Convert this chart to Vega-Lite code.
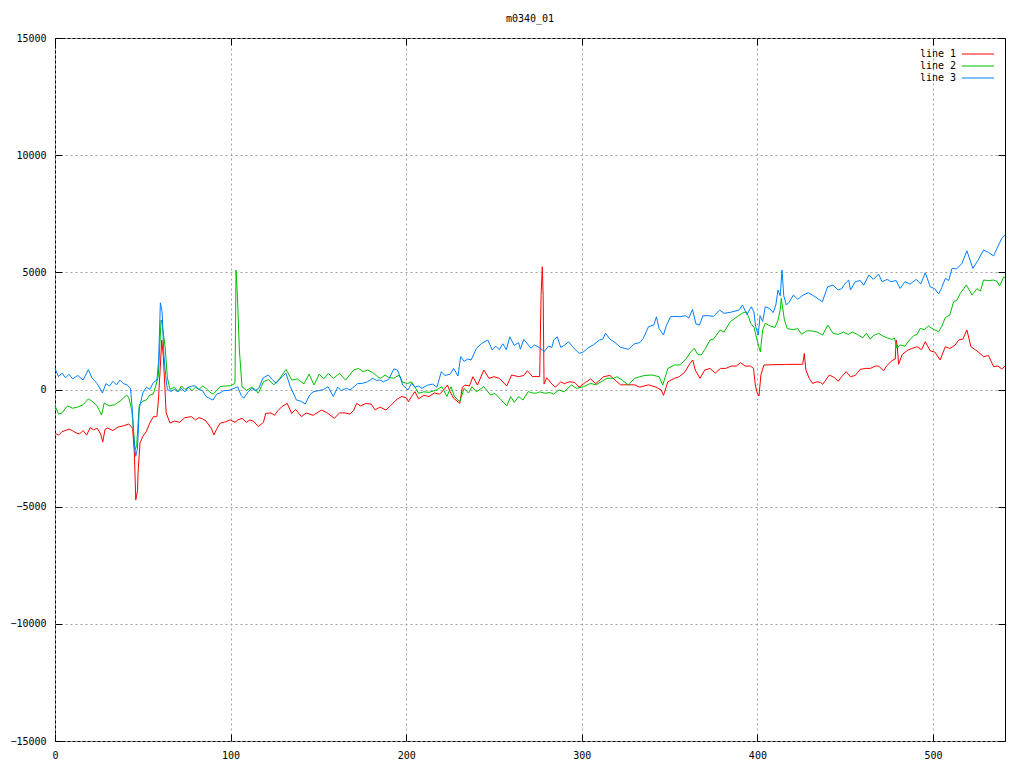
{
"$schema":"https://vega.github.io/schema/vega-lite/v6.json",
"width":950,"height":703,
"autosize":{"type":"none"},
"padding":{"left":55,"top":38,"right":19,"bottom":27},
"background":"white",
"title":{"text":"m0340_01","font":"DejaVu Sans Mono","fontSize":10,"fontWeight":"normal","color":"black","anchor":"middle","offset":9},
"config":{"view":{"stroke":"black","strokeWidth":1},"font":"DejaVu Sans Mono"},
"datasets":{
"l1":[{"x":0,"y":-1860},{"x":2,"y":-1950},{"x":4,"y":-1800},{"x":6,"y":-1750},{"x":8,"y":-1690},{"x":10,"y":-1760},{"x":12,"y":-1850},{"x":14,"y":-1900},{"x":16,"y":-1750},{"x":18,"y":-1950},{"x":20,"y":-1630},{"x":22,"y":-1720},{"x":24,"y":-1650},{"x":26,"y":-1900},{"x":27.2,"y":-2240},{"x":28.5,"y":-1700},{"x":30,"y":-1650},{"x":33,"y":-1750},{"x":36,"y":-1600},{"x":39,"y":-1550},{"x":42,"y":-1470},{"x":44.2,"y":-1650},{"x":45.2,"y":-2710},{"x":46,"y":-4715},{"x":47,"y":-4300},{"x":47.3,"y":-3560},{"x":48.4,"y":-2280},{"x":50,"y":-2000},{"x":52,"y":-1800},{"x":54,"y":-1430},{"x":56,"y":-1160},{"x":58,"y":-1160},{"x":58.9,"y":-450},{"x":60.8,"y":2110},{"x":61.7,"y":1400},{"x":63.3,"y":-1000},{"x":65.5,"y":-1430},{"x":68,"y":-1350},{"x":71,"y":-1400},{"x":74,"y":-1200},{"x":77.8,"y":-1160},{"x":80,"y":-1300},{"x":82,"y":-1200},{"x":84,"y":-1250},{"x":86,"y":-1350},{"x":89,"y":-1650},{"x":90.5,"y":-1940},{"x":92,"y":-1700},{"x":94,"y":-1440},{"x":97,"y":-1380},{"x":99.8,"y":-1300},{"x":102.5,"y":-1400},{"x":104,"y":-1300},{"x":106.5,"y":-1230},{"x":109,"y":-1400},{"x":111,"y":-1300},{"x":113,"y":-1350},{"x":115.8,"y":-1580},{"x":118.7,"y":-1400},{"x":120,"y":-1020},{"x":123,"y":-1000},{"x":125,"y":-1100},{"x":127,"y":-900},{"x":129.2,"y":-730},{"x":132.2,"y":-590},{"x":134.8,"y":-1020},{"x":137,"y":-850},{"x":140.4,"y":-1160},{"x":143,"y":-1000},{"x":147,"y":-1100},{"x":151.9,"y":-875},{"x":155,"y":-1000},{"x":159.1,"y":-1230},{"x":162,"y":-1000},{"x":165,"y":-1000},{"x":168,"y":-1050},{"x":170,"y":-900},{"x":171.8,"y":-590},{"x":174,"y":-700},{"x":177,"y":-600},{"x":180,"y":-620},{"x":182.3,"y":-875},{"x":185,"y":-750},{"x":188.5,"y":-875},{"x":191,"y":-700},{"x":195,"y":-400},{"x":197.5,"y":-300},{"x":200,"y":-350},{"x":201.3,"y":-520},{"x":203,"y":-300},{"x":205,"y":-90},{"x":207,"y":-400},{"x":210,"y":-250},{"x":213,"y":-300},{"x":216,"y":-150},{"x":219,"y":-200},{"x":221,"y":-50},{"x":223.5,"y":190},{"x":225,"y":-100},{"x":227,"y":-375},{"x":230.5,"y":-590},{"x":232,"y":100},{"x":233.5,"y":190},{"x":236,"y":150},{"x":238,"y":546},{"x":240.6,"y":190},{"x":244.2,"y":830},{"x":247.1,"y":478},{"x":250,"y":546},{"x":253,"y":478},{"x":257.3,"y":150},{"x":260,"y":620},{"x":264,"y":546},{"x":267,"y":600},{"x":269,"y":800},{"x":272,"y":546},{"x":274,"y":560},{"x":276,"y":546},{"x":276.8,"y":4000},{"x":277.5,"y":5240},{"x":278,"y":4000},{"x":278.5,"y":230},{"x":280,"y":500},{"x":283,"y":230},{"x":285,"y":100},{"x":288,"y":330},{"x":290,"y":250},{"x":293,"y":330},{"x":296,"y":300},{"x":298.5,"y":100},{"x":302,"y":300},{"x":305,"y":450},{"x":308,"y":250},{"x":312.4,"y":546},{"x":316,"y":600},{"x":319,"y":400},{"x":322,"y":200},{"x":326,"y":200},{"x":330,"y":200},{"x":333,"y":100},{"x":338,"y":200},{"x":342.3,"y":100},{"x":345.2,"y":-20},{"x":346.5,"y":-250},{"x":349,"y":330},{"x":352.8,"y":478},{"x":355.5,"y":546},{"x":358.8,"y":760},{"x":361.5,"y":1100},{"x":363.2,"y":1260},{"x":364.6,"y":830},{"x":367.3,"y":478},{"x":370,"y":830},{"x":373,"y":900},{"x":376,"y":700},{"x":379,"y":900},{"x":382,"y":900},{"x":385,"y":1000},{"x":388,"y":1000},{"x":390.4,"y":1145},{"x":393,"y":1000},{"x":396,"y":1000},{"x":397.8,"y":900},{"x":398.7,"y":260},{"x":399.6,"y":-90},{"x":400.9,"y":-280},{"x":402,"y":620},{"x":403.7,"y":1045},{"x":410,"y":1060},{"x":416,"y":1070},{"x":425.8,"y":1075},{"x":426.7,"y":1540},{"x":427.6,"y":830},{"x":429.5,"y":478},{"x":431.4,"y":260},{"x":434,"y":330},{"x":436,"y":300},{"x":437.2,"y":220},{"x":441,"y":620},{"x":444,"y":500},{"x":446,"y":350},{"x":448,"y":550},{"x":450.6,"y":760},{"x":453,"y":546},{"x":455.7,"y":600},{"x":458.6,"y":860},{"x":461.5,"y":900},{"x":464.3,"y":900},{"x":467,"y":1000},{"x":469,"y":1000},{"x":471.9,"y":800},{"x":473.5,"y":1000},{"x":476.6,"y":1230},{"x":478.5,"y":1300},{"x":479,"y":2110},{"x":479.6,"y":1900},{"x":480.4,"y":1075},{"x":482.5,"y":1500},{"x":485.7,"y":1685},{"x":488,"y":1750},{"x":490.9,"y":1826},{"x":493.5,"y":1700},{"x":495.6,"y":2040},{"x":498.4,"y":1650},{"x":501,"y":1600},{"x":504.1,"y":1260},{"x":507,"y":1826},{"x":509.6,"y":1750},{"x":512.6,"y":1900},{"x":514.6,"y":2110},{"x":517,"y":2150},{"x":519.3,"y":2540},{"x":521.6,"y":1826},{"x":525,"y":1650},{"x":528.8,"y":1400},{"x":531.6,"y":1450},{"x":534.5,"y":975},{"x":537,"y":1000},{"x":539.2,"y":875},{"x":541,"y":1000}],
"l2":[{"x":0,"y":-700},{"x":2,"y":-1050},{"x":4,"y":-1000},{"x":7,"y":-700},{"x":10,"y":-800},{"x":13,"y":-750},{"x":16,"y":-650},{"x":19,"y":-400},{"x":21,"y":-500},{"x":24,"y":-700},{"x":26.5,"y":-1090},{"x":28,"y":-580},{"x":31,"y":-700},{"x":34,"y":-650},{"x":37,"y":-500},{"x":40.8,"y":-235},{"x":42,"y":-350},{"x":43.7,"y":-870},{"x":45,"y":-2000},{"x":45.6,"y":-2580},{"x":46.5,"y":-2400},{"x":48,"y":-660},{"x":50,"y":-500},{"x":52,"y":-450},{"x":54,"y":-235},{"x":56,"y":-200},{"x":58.8,"y":546},{"x":60.4,"y":2965},{"x":61,"y":2800},{"x":62.7,"y":1826},{"x":64,"y":500},{"x":65.5,"y":0},{"x":68,"y":100},{"x":70,"y":-100},{"x":72,"y":150},{"x":74,"y":0},{"x":76,"y":100},{"x":78,"y":-50},{"x":80,"y":100},{"x":82,"y":0},{"x":84,"y":150},{"x":86,"y":50},{"x":88,"y":-100},{"x":90,"y":-200},{"x":92,"y":-50},{"x":94,"y":120},{"x":97,"y":150},{"x":100,"y":160},{"x":102.5,"y":260},{"x":103.1,"y":5100},{"x":103.9,"y":3960},{"x":105,"y":1685},{"x":106.5,"y":120},{"x":109,"y":-40},{"x":112,"y":100},{"x":114,"y":0},{"x":115.8,"y":-160},{"x":118.7,"y":333},{"x":121.5,"y":420},{"x":124.6,"y":200},{"x":127.5,"y":420},{"x":131.6,"y":860},{"x":134.8,"y":405},{"x":138,"y":450},{"x":141.8,"y":240},{"x":144.7,"y":660},{"x":147.5,"y":190},{"x":150.5,"y":660},{"x":153,"y":450},{"x":155.7,"y":690},{"x":158.5,"y":470},{"x":162,"y":690},{"x":165.5,"y":400},{"x":170,"y":830},{"x":172.8,"y":900},{"x":175.5,"y":760},{"x":178,"y":830},{"x":181,"y":720},{"x":183.7,"y":546},{"x":185.5,"y":478},{"x":188,"y":620},{"x":190,"y":520},{"x":193,"y":480},{"x":196,"y":620},{"x":198,"y":300},{"x":201,"y":260},{"x":203,"y":330},{"x":205.4,"y":50},{"x":207,"y":-160},{"x":210,"y":-100},{"x":213,"y":-120},{"x":217,"y":-30},{"x":220.3,"y":120},{"x":223.2,"y":-300},{"x":225.5,"y":120},{"x":227.5,"y":-300},{"x":230.5,"y":-520},{"x":233,"y":50},{"x":235.5,"y":-150},{"x":237.4,"y":120},{"x":240,"y":-100},{"x":244.2,"y":120},{"x":248,"y":-235},{"x":250.5,"y":-170},{"x":253.5,"y":-400},{"x":257.3,"y":-700},{"x":259.5,"y":-300},{"x":261.5,"y":-550},{"x":264,"y":-300},{"x":266.5,"y":-450},{"x":269.5,"y":-90},{"x":272,"y":-150},{"x":274,"y":-160},{"x":276,"y":-100},{"x":279,"y":-160},{"x":282,"y":-130},{"x":284,"y":-200},{"x":287,"y":-20},{"x":290,"y":-100},{"x":294,"y":190},{"x":297,"y":50},{"x":301,"y":120},{"x":305,"y":260},{"x":308,"y":200},{"x":311,"y":330},{"x":314.4,"y":478},{"x":318,"y":478},{"x":320,"y":546},{"x":323,"y":400},{"x":326.5,"y":190},{"x":330,"y":480},{"x":333,"y":546},{"x":336,"y":600},{"x":340,"y":620},{"x":344,"y":546},{"x":346.1,"y":190},{"x":349,"y":900},{"x":352.8,"y":1045},{"x":356,"y":1045},{"x":359.6,"y":1330},{"x":362,"y":1600},{"x":364,"y":1760},{"x":366,"y":1500},{"x":368,"y":1470},{"x":370,"y":1700},{"x":373,"y":2110},{"x":375,"y":2150},{"x":378.8,"y":2540},{"x":381,"y":2450},{"x":384.5,"y":2890},{"x":388.4,"y":3105},{"x":391.3,"y":3250},{"x":393.6,"y":3320},{"x":395,"y":3100},{"x":396.2,"y":2820},{"x":398.1,"y":2650},{"x":399.5,"y":2200},{"x":400.8,"y":1826},{"x":401.7,"y":1610},{"x":403,"y":2540},{"x":404.5,"y":2820},{"x":407.5,"y":2700},{"x":410,"y":2650},{"x":411.7,"y":2950},{"x":413,"y":3400},{"x":413.6,"y":3890},{"x":415.4,"y":2965},{"x":417,"y":2600},{"x":420.3,"y":2550},{"x":423,"y":2600},{"x":425.2,"y":2355},{"x":428,"y":2500},{"x":431,"y":2500},{"x":434,"y":2450},{"x":437.2,"y":2325},{"x":440.1,"y":2750},{"x":443,"y":2400},{"x":446,"y":2350},{"x":449,"y":2450},{"x":451.7,"y":2350},{"x":454,"y":2450},{"x":457,"y":2350},{"x":460,"y":2200},{"x":462,"y":2400},{"x":464.3,"y":2150},{"x":466,"y":2300},{"x":469,"y":2400},{"x":471,"y":2300},{"x":474,"y":2200},{"x":476.6,"y":2140},{"x":478,"y":2200},{"x":479.5,"y":1760},{"x":481.3,"y":1900},{"x":484,"y":1850},{"x":486.6,"y":2110},{"x":489,"y":2300},{"x":491,"y":2350},{"x":492.7,"y":2610},{"x":495,"y":2550},{"x":497.4,"y":2710},{"x":500,"y":2580},{"x":503.2,"y":2465},{"x":505,"y":2700},{"x":507,"y":3065},{"x":509.6,"y":3180},{"x":511.7,"y":3745},{"x":513.5,"y":3800},{"x":515.5,"y":4100},{"x":519,"y":4460},{"x":522.2,"y":4030},{"x":525,"y":4300},{"x":527,"y":4200},{"x":528.8,"y":4670},{"x":531.6,"y":4650},{"x":534.5,"y":4670},{"x":536.4,"y":4620},{"x":537.9,"y":4415},{"x":540.3,"y":4810},{"x":541,"y":4750}],
"l3":[{"x":0,"y":900},{"x":2,"y":550},{"x":4,"y":700},{"x":6,"y":500},{"x":8,"y":650},{"x":10,"y":450},{"x":13,"y":600},{"x":16,"y":400},{"x":19,"y":850},{"x":21,"y":500},{"x":24,"y":250},{"x":27,"y":-150},{"x":29,"y":250},{"x":31,"y":150},{"x":33,"y":350},{"x":35,"y":200},{"x":37,"y":400},{"x":39,"y":250},{"x":41,"y":200},{"x":43,"y":50},{"x":44,"y":-800},{"x":45,"y":-2200},{"x":46,"y":-2850},{"x":47,"y":-2500},{"x":48,"y":-800},{"x":50,"y":-150},{"x":52,"y":100},{"x":54,"y":0},{"x":56,"y":300},{"x":58,"y":400},{"x":59,"y":1200},{"x":60,"y":3700},{"x":61,"y":3300},{"x":62,"y":1500},{"x":63,"y":600},{"x":64,"y":0},{"x":66,"y":-80},{"x":68,"y":0},{"x":70,"y":-100},{"x":72,"y":50},{"x":74,"y":-100},{"x":76,"y":100},{"x":78,"y":150},{"x":80,"y":150},{"x":82,"y":0},{"x":84,"y":-50},{"x":86,"y":-300},{"x":88,"y":-380},{"x":90,"y":-450},{"x":92,"y":-200},{"x":94,"y":-150},{"x":96,"y":-50},{"x":99,"y":-40},{"x":102,"y":50},{"x":104,"y":120},{"x":106,"y":-250},{"x":107.5,"y":-370},{"x":110,"y":-100},{"x":112,"y":50},{"x":114,"y":-50},{"x":116,"y":50},{"x":118.5,"y":490},{"x":121.5,"y":620},{"x":124,"y":400},{"x":126,"y":260},{"x":128,"y":450},{"x":129.5,"y":546},{"x":131.5,"y":700},{"x":134,"y":120},{"x":136,"y":-200},{"x":137.5,"y":-450},{"x":140,"y":-500},{"x":142.5,"y":-620},{"x":145,"y":-235},{"x":147,"y":-100},{"x":150,"y":-50},{"x":153,"y":0},{"x":155.5,"y":120},{"x":158.5,"y":-300},{"x":161,"y":100},{"x":163,"y":-50},{"x":166,"y":50},{"x":168,"y":-20},{"x":172.5,"y":260},{"x":175,"y":260},{"x":178,"y":330},{"x":181,"y":478},{"x":183,"y":390},{"x":185,"y":405},{"x":187,"y":330},{"x":190,"y":430},{"x":193,"y":880},{"x":195,"y":830},{"x":196,"y":650},{"x":198,"y":190},{"x":201,"y":-20},{"x":203,"y":260},{"x":205,"y":100},{"x":207,"y":150},{"x":209,"y":50},{"x":212,"y":180},{"x":215,"y":230},{"x":217.5,"y":100},{"x":220,"y":760},{"x":222,"y":600},{"x":225,"y":650},{"x":227,"y":900},{"x":229.5,"y":575},{"x":231,"y":1400},{"x":233,"y":1200},{"x":235,"y":1300},{"x":237,"y":1260},{"x":240,"y":1760},{"x":243,"y":1970},{"x":246.5,"y":2110},{"x":249,"y":1685},{"x":251,"y":1850},{"x":253,"y":1700},{"x":255,"y":1950},{"x":257,"y":1700},{"x":259,"y":2250},{"x":261.5,"y":1880},{"x":264,"y":2000},{"x":265,"y":1720},{"x":267,"y":2140},{"x":269,"y":1950},{"x":271,"y":1760},{"x":273,"y":1900},{"x":275.5,"y":1800},{"x":277.5,"y":1700},{"x":278.5,"y":1610},{"x":281,"y":1850},{"x":283,"y":1800},{"x":284,"y":2110},{"x":286,"y":2250},{"x":288,"y":1800},{"x":290,"y":1880},{"x":292.5,"y":2040},{"x":295,"y":1800},{"x":298.5,"y":1540},{"x":301,"y":1610},{"x":304,"y":1800},{"x":306.5,"y":1900},{"x":310,"y":2110},{"x":312,"y":2150},{"x":313.5,"y":2400},{"x":316,"y":2150},{"x":319,"y":2000},{"x":322,"y":1800},{"x":326.5,"y":1715},{"x":330,"y":1950},{"x":333,"y":2000},{"x":335,"y":2180},{"x":338,"y":2680},{"x":341,"y":2750},{"x":342.5,"y":3105},{"x":344,"y":2600},{"x":346.5,"y":2325},{"x":348,"y":2700},{"x":350.5,"y":3105},{"x":353,"y":3120},{"x":356,"y":3105},{"x":359,"y":3150},{"x":361,"y":3050},{"x":363,"y":3420},{"x":365,"y":2800},{"x":367,"y":2750},{"x":369,"y":3150},{"x":372,"y":3150},{"x":375,"y":3120},{"x":378.5,"y":3390},{"x":381,"y":3250},{"x":385,"y":3300},{"x":389.5,"y":3390},{"x":391.5,"y":3605},{"x":394,"y":3200},{"x":396.5,"y":3530},{"x":398,"y":3320},{"x":399,"y":2680},{"x":400.5,"y":2325},{"x":401.5,"y":3150},{"x":403,"y":2900},{"x":404.5,"y":3530},{"x":407,"y":3450},{"x":409,"y":3280},{"x":410.5,"y":3605},{"x":411.7,"y":4245},{"x":413,"y":4000},{"x":414,"y":5100},{"x":415,"y":4000},{"x":416.5,"y":3605},{"x":418,"y":3720},{"x":420.5,"y":4030},{"x":423,"y":3850},{"x":426,"y":4030},{"x":429,"y":4130},{"x":432,"y":4000},{"x":437,"y":3745},{"x":440,"y":4385},{"x":443,"y":4450},{"x":446,"y":4250},{"x":448,"y":4300},{"x":450,"y":4530},{"x":452,"y":4670},{"x":453,"y":4245},{"x":455.7,"y":4600},{"x":458.6,"y":4650},{"x":460.5,"y":4450},{"x":463.5,"y":4885},{"x":466,"y":4700},{"x":469,"y":4925},{"x":471,"y":4600},{"x":474,"y":4700},{"x":476,"y":4600},{"x":479,"y":4650},{"x":481.3,"y":4315},{"x":484,"y":4600},{"x":487,"y":4500},{"x":490.5,"y":4700},{"x":493,"y":4500},{"x":495.6,"y":4985},{"x":498.4,"y":4385},{"x":501,"y":4300},{"x":503.2,"y":4075},{"x":505,"y":4350},{"x":507,"y":4740},{"x":509,"y":4650},{"x":510.8,"y":5170},{"x":513.5,"y":5150},{"x":516.5,"y":5385},{"x":519.3,"y":5920},{"x":522.7,"y":5170},{"x":525.5,"y":5500},{"x":528.8,"y":5950},{"x":531.6,"y":5850},{"x":534.5,"y":5700},{"x":536.4,"y":6020},{"x":539.2,"y":6450},{"x":541,"y":6590}]
},
"layer":[
{"layer":[
{"data":{"name":"l1"},"mark":{"type":"line","strokeWidth":1},
 "encoding":{
  "x":{"field":"x","type":"quantitative","scale":{"domain":[0,541],"nice":false,"zero":false},
   "axis":{"orient":"bottom","values":[0,100,200,300,400,500],"format":"d","title":null,"domain":false,"tickSize":-7,"tickColor":"black","labelPadding":16,"labelFlush":false,"labelOverlap":false,"labelFont":"DejaVu Sans Mono","labelFontSize":10,"labelColor":"black","grid":true,"gridColor":"#a0a0a0","gridDash":[2,3],"gridWidth":1}},
  "y":{"field":"y","type":"quantitative","scale":{"domain":[-15000,15000],"nice":false},
   "axis":{"orient":"left","values":[-15000,-10000,-5000,0,5000,10000,15000],"format":"d","title":null,"domain":false,"tickSize":-7,"tickColor":"black","labelPadding":16,"labelFlush":false,"labelOverlap":false,"labelFont":"DejaVu Sans Mono","labelFontSize":10,"labelColor":"black","grid":true,"gridColor":"#a0a0a0","gridDash":[2,3],"gridWidth":1}},
  "color":{"datum":"line 1","type":"nominal","scale":{"domain":["line 1","line 2","line 3"],"range":["#ff0000","#00c000","#0080ff"]},
   "legend":{"orient":"none","legendX":917,"legendY":10,"title":null,"symbolType":"M-2.909,0H2.909","symbolSize":121,"symbolStrokeWidth":1,"symbolFillColor":"transparent","labelAlign":"right","labelOffset":-28,"labelFont":"DejaVu Sans Mono","labelFontSize":10,"labelColor":"black","rowPadding":1,"padding":0}}
 }},
{"data":{"name":"l2"},"mark":{"type":"line","strokeWidth":1},
 "encoding":{"x":{"field":"x","type":"quantitative"},"y":{"field":"y","type":"quantitative"},"color":{"datum":"line 2","type":"nominal"}}},
{"data":{"name":"l3"},"mark":{"type":"line","strokeWidth":1},
 "encoding":{"x":{"field":"x","type":"quantitative"},"y":{"field":"y","type":"quantitative"},"color":{"datum":"line 3","type":"nominal"}}}
]},
{"data":{"name":"l1"},"mark":{"type":"line","opacity":0},
 "encoding":{
  "x":{"field":"x","type":"quantitative","axis":{"orient":"top","values":[0,100,200,300,400,500],"title":null,"domain":false,"labels":false,"grid":false,"tickSize":-7,"tickColor":"black"}},
  "y":{"field":"y","type":"quantitative","axis":{"orient":"right","values":[-15000,-10000,-5000,0,5000,10000,15000],"title":null,"domain":false,"labels":false,"grid":false,"tickSize":-7,"tickColor":"black"}}
 }}
],
"resolve":{"axis":{"x":"independent","y":"independent"}}
}
